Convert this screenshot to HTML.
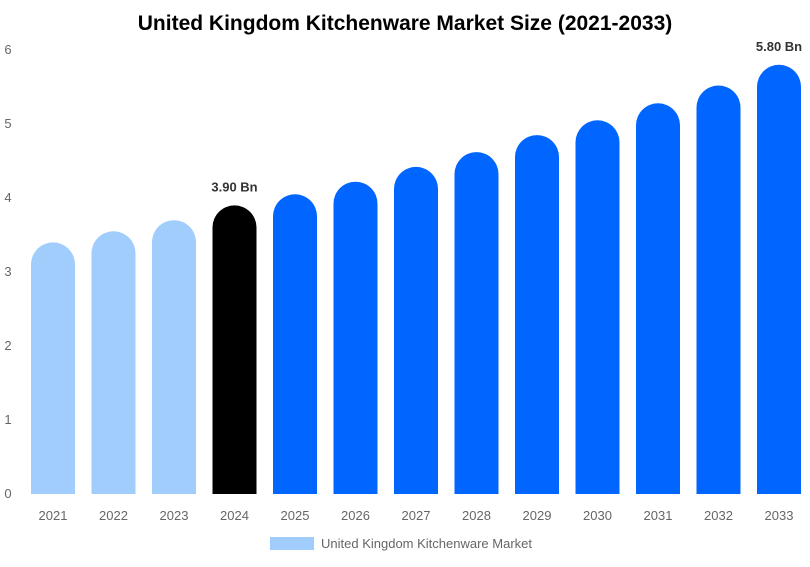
<!DOCTYPE html>
<html><head><meta charset="utf-8"><style>
body{margin:0;background:#fff;font-family:"Liberation Sans",Arial,sans-serif}
</style></head><body>
<svg id="chart" width="810" height="562" xmlns="http://www.w3.org/2000/svg" font-family="Liberation Sans, Arial, sans-serif">
<text x="405" y="30" text-anchor="middle" font-size="21" font-weight="bold" fill="#000">United Kingdom Kitchenware Market Size (2021-2033)</text>
<g id="yaxis"></g><g id="bars"></g><g id="xaxis"></g>
<g>
<rect x="270" y="537" width="44" height="13" fill="#a0cdfc"/>
<text x="321" y="548" font-size="13" fill="#666">United Kingdom Kitchenware Market</text>
</g>
</svg>
<script>
const categories=["2021","2022","2023","2024","2025","2026","2027","2028","2029","2030","2031","2032","2033"];
const values=[3.40,3.55,3.70,3.90,4.05,4.22,4.42,4.62,4.85,5.05,5.28,5.52,5.80];
const colors=["#a0cdfc","#a0cdfc","#a0cdfc","#000000","#0066ff","#0066ff","#0066ff","#0066ff","#0066ff","#0066ff","#0066ff","#0066ff","#0066ff"];
const printed=["","","","3.90 Bn","","","","","","","","","5.80 Bn"];
const yTicks=[0,1,2,3,4,5,6];
const NS="http://www.w3.org/2000/svg";
const y0=494,pxPer=74,left=22.75,step=60.5,bw=44;
const y=v=>y0-v*pxPer;
const xc=i=>left+step*i+step/2;
function mk(t,a,p){const e=document.createElementNS(NS,t);for(const k in a)e.setAttribute(k,a[k]);p.appendChild(e);return e;}
const ya=document.getElementById('yaxis');
yTicks.forEach(t=>{const e=mk('text',{x:8,y:y(t)+4,'font-size':13,fill:'#666','text-anchor':'middle'},ya);e.textContent=t;

});
const bg=document.getElementById('bars'),xa=document.getElementById('xaxis');
values.forEach((v,i)=>{
const x=xc(i)-bw/2,top=y(v),r=bw/2;
const p=mk('path',{d:`M${x},${y0} L${x},${top+r} A${r},${r} 0 0 1 ${x+bw},${top+r} L${x+bw},${y0} Z`,fill:colors[i]},bg);


const l=mk('text',{x:xc(i),y:520,'font-size':13,fill:'#666','text-anchor':'middle'},xa);l.textContent=categories[i];


if(printed[i]){const t=mk('text',{x:xc(i),y:top-14,'font-size':13,'font-weight':'bold',fill:'#333','text-anchor':'middle'},bg);t.textContent=printed[i];

}
});
</script>
</body></html>
